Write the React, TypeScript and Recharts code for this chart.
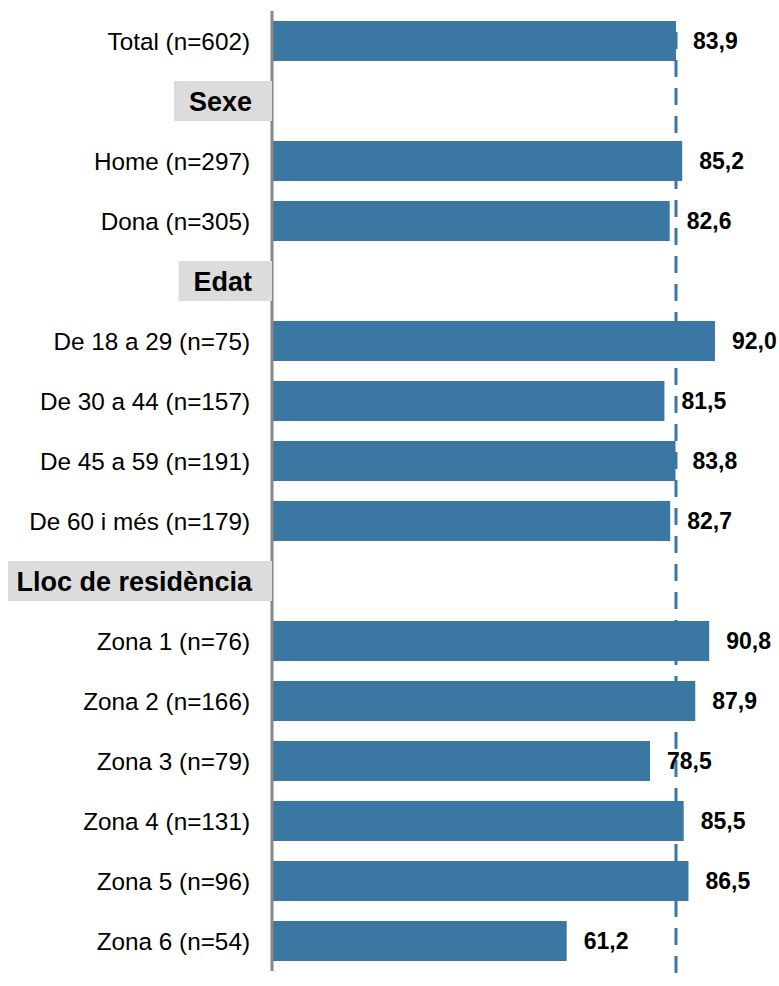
import React from 'react';
import { BarChart, Bar, XAxis, YAxis, ReferenceLine, LabelList } from 'recharts';

// ─── Dades ────────────────────────────────────────────────────────────────────

const categories = [
  'Total (n=602)',
  'Sexe',
  'Home (n=297)',
  'Dona (n=305)',
  'Edat',
  'De 18 a 29 (n=75)',
  'De 30 a 44 (n=157)',
  'De 45 a 59 (n=191)',
  'De 60 i més (n=179)',
  'Lloc de residència',
  'Zona 1 (n=76)',
  'Zona 2 (n=166)',
  'Zona 3 (n=79)',
  'Zona 4 (n=131)',
  'Zona 5 (n=96)',
  'Zona 6 (n=54)',
];

const values: (number | null)[] = [
  83.9, null, 85.2, 82.6, null, 92.0, 81.5, 83.8, 82.7, null, 90.8, 87.9, 78.5, 85.5, 86.5, 61.2,
];

const headers = ['Sexe', 'Edat', 'Lloc de residència'];

const totalValue = 83.9;

// ─── Estils ───────────────────────────────────────────────────────────────────

const FONT = '"Liberation Sans", Arial, sans-serif';
const BAR = '#3a77a3';

function fmt(v: any) {
  if (v === null || v === undefined || v === '') return '';
  return Number(v).toFixed(1).replace('.', ',');
}

let ctx: CanvasRenderingContext2D | null = null;
function textWidth(text: string, font: string) {
  if (!ctx) ctx = document.createElement('canvas').getContext('2d');
  if (!ctx) return text.length * 14;
  ctx.font = font;
  return ctx.measureText(text).width;
}

function CategoryTick({ x, y, payload }: any) {
  const label = payload.value as string;
  if (headers.includes(label)) {
    const w = textWidth(label, `bold 27px ${FONT}`);
    const right = x + 22;
    const left = Math.max(8, x + 2 - w - 15);
    return (
      <g>
        <rect x={left} y={y - 20} width={right - left} height={40} fill="#dcdcdc" />
        <text x={x + 2} y={y} dy="0.355em" textAnchor="end" fontFamily={FONT} fontSize={27} fontWeight="bold" fill="#000">
          {label}
        </text>
      </g>
    );
  }
  return (
    <text x={x} y={y} dy="0.355em" textAnchor="end" fontFamily={FONT} fontSize={24.3} fill="#000">
      {label}
    </text>
  );
}

function DashedAverage(props: any) {
  const { x1, x2, y1, y2 } = props;
  return (
    <line
      x1={x1}
      x2={x2}
      y1={y1 + 2}
      y2={y2 + 15}
      stroke={BAR}
      strokeWidth={3}
      strokeDasharray="17 11"
    />
  );
}

// ─── Component ────────────────────────────────────────────────────────────────

export default function App() {
  const data = categories.map((c, i) => ({ name: c, value: values[i] }));

  return (
    <div style={{ position: 'absolute', left: 0, top: 0, width: 779, height: 986, overflow: 'hidden', background: '#fff' }}>
      <BarChart
        width={779}
        height={986}
        data={data}
        layout="vertical"
        margin={{ top: 11, right: 25.5, left: 0, bottom: 15 }}
      >
        <XAxis type="number" domain={[0, 100]} hide />
        <YAxis
          type="category"
          dataKey="name"
          width={272}
          tick={<CategoryTick />}
          tickLine={false}
          tickSize={0}
          tickMargin={22}
          interval={0}
          axisLine={{ stroke: '#888888', strokeWidth: 3 }}
        />
        <Bar dataKey="value" fill={BAR} barSize={40} isAnimationActive={false}>
          <LabelList
            dataKey="value"
            position="right"
            offset={17}
            formatter={fmt}
            style={{ fontFamily: FONT, fontSize: 23, fontWeight: 'bold', fill: '#000' }}
          />
        </Bar>
        <ReferenceLine x={totalValue} shape={<DashedAverage />} ifOverflow="visible" />
      </BarChart>
    </div>
  );
}
